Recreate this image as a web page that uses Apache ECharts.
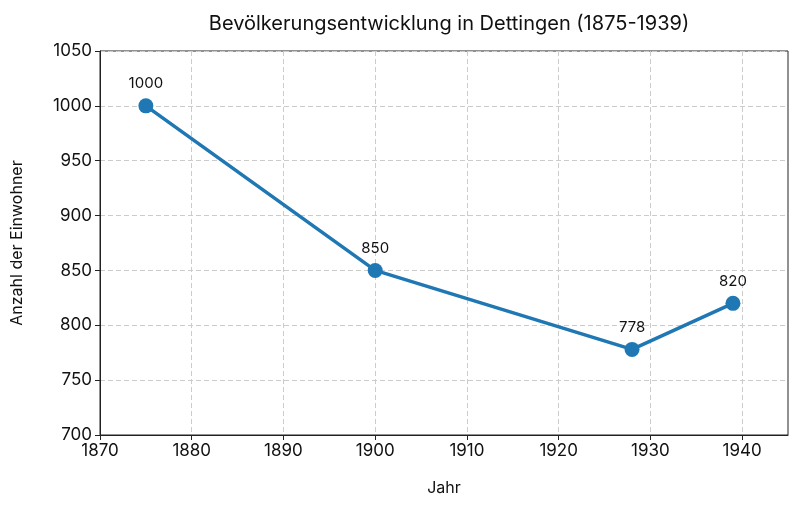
<!DOCTYPE html>
<html>
<head>
<meta charset="utf-8">
<script src="https://cdn.jsdelivr.net/npm/echarts@6/dist/echarts.min.js"></script>
<style>
	html, body { margin: 0; padding: 0; background: #fff; }
	#chart { width: 800px; height: 508px; }
</style>
</head>
<body>
<div id="chart"></div>
<script>
	// Data
	const years = [1875, 1900, 1928, 1939];
	const population = [1000, 850, 778, 820];
	const xTicks = [1870, 1880, 1890, 1900, 1910, 1920, 1930, 1940];

	const font = "Inter, 'DejaVu Sans', sans-serif";

	var chart = echarts.init(document.getElementById("chart"));
	var option = {
		animation: false,
		title: {
			text: "Bevölkerungsentwicklung in Dettingen (1875-1939)",
			left: 444,
			top: 9,
			textAlign: "center",
			textStyle: { fontFamily: font, fontSize: 20, fontWeight: "normal", color: "#111" },
		},
		grid: {
			left: 100,
			right: 12,
			top: 51,
			bottom: 73,
			show: true,
			borderColor: "#222",
			borderWidth: 1,
		},
		xAxis: {
			type: "value",
			min: 1870,
			max: 1945,
			interval: 10,
			name: "Jahr",
			nameLocation: "middle",
			nameGap: 45,
			nameTextStyle: { fontFamily: font, fontSize: 16, color: "#111" },
			axisLine: { show: true, lineStyle: { color: "#222" } },
			axisTick: { show: true, length: 5, lineStyle: { color: "#222" }, customValues: xTicks },
			axisLabel: {
				fontFamily: font, fontSize: 17, color: "#111", margin: 7,
				customValues: xTicks,
				formatter: (v) => String(v),
			},
			splitLine: { show: true, lineStyle: { color: "#ccc", type: [5, 3] } },
		},
		yAxis: {
			type: "value",
			min: 700,
			max: 1050,
			interval: 50,
			name: "Anzahl der Einwohner",
			nameLocation: "middle",
			nameGap: 75,
			nameTextStyle: { fontFamily: font, fontSize: 16, color: "#111" },
			axisLine: { show: true, lineStyle: { color: "#222" } },
			axisTick: { show: true, length: 5, lineStyle: { color: "#222" } },
			axisLabel: {
				fontFamily: font, fontSize: 17, color: "#111", margin: 8,
				formatter: (v) => String(v),
			},
			splitLine: { show: true, lineStyle: { color: "#ccc", type: [5, 3] } },
		},
		series: [
			{
				type: "line",
				data: years.map((y, i) => [y, population[i]]),
				symbol: "circle",
				symbolSize: 15,
				lineStyle: { color: "#1f77b4", width: 3.5 },
				itemStyle: { color: "#1f77b4" },
				label: {
					show: true,
					position: "top",
					distance: 7,
					fontFamily: font,
					fontSize: 15,
					color: "#111",
				},
			},
		],
	};
	chart.setOption(option);
</script>
</body>
</html>
